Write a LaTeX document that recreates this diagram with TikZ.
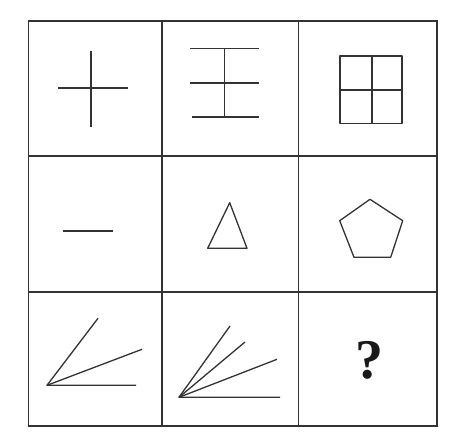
\documentclass[tikz,border=0pt]{standalone}
\usepackage{fontspec}
\newfontfamily\qfont{Liberation Serif}
\usetikzlibrary{positioning}

\begin{document}
\begin{tikzpicture}[x=1pt,y=-1pt]
\useasboundingbox[fill=white] (0,0) rectangle (453,436);
\tikzset{grid line/.style={draw=black!80,line width=1.6pt},
fig line/.style={draw=black!80,line width=1.3pt,line join=round}}
% outer frame and grid
\draw[grid line] (28.5,21) rectangle (437,426);
\foreach \gx in {162,298.5} \draw[grid line] (\gx,21) -- (\gx,426);
\foreach \gy in {156,291.7} \draw[grid line] (28.5,\gy) -- (437,\gy);

% row 1
\draw[fig line] (91,51) -- (91,127);
\draw[fig line] (58,88) -- (127.7,88);
\draw[fig line] (190,48.3) -- (259,48.3);
\draw[fig line] (190,83) -- (259,83);
\draw[fig line] (191.7,117) -- (259,117);
\draw[fig line] (224.7,48.3) -- (224.7,117);
\draw[fig line] (340,56) rectangle (402,123.7);
\draw[fig line] (372,56) -- (372,123.7);
\draw[fig line] (340,90) -- (402,90);

% row 2
\draw[fig line] (62.7,231) -- (113,231);
\draw[fig line] (229.7,202.7) -- (207.7,248.3) -- (247,248.3) -- cycle;
\draw[fig line] (370,199.3) -- (402.7,220.7) -- (390.7,257.3) -- (354,257.3) -- (339.7,220.7) -- cycle;

% row 3
\draw[fig line] (98,318.3) -- (47,385.3) -- (136,385.3);
\draw[fig line] (47,385.3) -- (142,349.3);
\draw[fig line] (230,326) -- (179,397.3) -- (280,397.3);
\draw[fig line] (179,397.3) -- (245,342);
\draw[fig line] (179,397.3) -- (277,359.3);
\node[font=\qfont\bfseries\fontsize{56}{60}\selectfont,text=black!90] (Q) at (369,360) {?};

\end{tikzpicture}
\end{document}
